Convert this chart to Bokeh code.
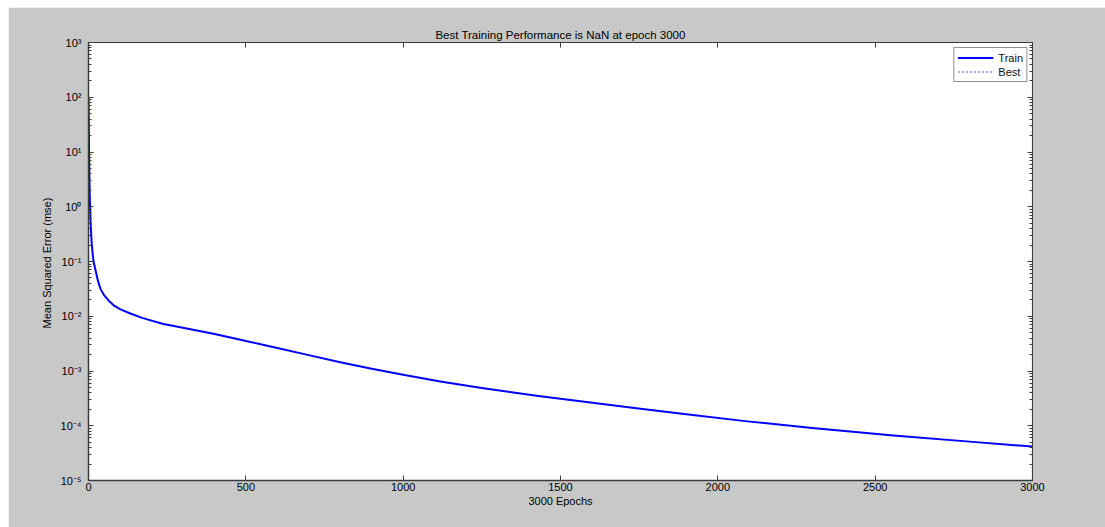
from bokeh.plotting import figure
from bokeh.models import (FixedTicker, LinearAxis, LogAxis, Legend, LegendItem,
                          CustomJSTickFormatter)
from bokeh.embed import file_html
from bokeh.resources import INLINE

# ---- data ----
epochs = [0, 1, 2, 3, 4, 5, 6, 8, 10, 13, 16, 22, 30, 38, 50, 65, 80, 100, 133,
          170, 238, 300, 397, 483, 600, 700, 800, 900, 1000, 1118, 1250, 1436,
          1627, 1754, 1900, 2094, 2300, 2558, 2800, 3000]
train_log_mse = [2.0, 1.5, 0.9, 0.5, 0.2, 0.0, -0.2, -0.45, -0.65, -0.85, -1.0,
                 -1.15, -1.35, -1.50, -1.62, -1.72, -1.80, -1.87, -1.95, -2.03,
                 -2.14, -2.21, -2.32, -2.43, -2.58, -2.71, -2.84, -2.96, -3.07,
                 -3.19, -3.31, -3.46, -3.60, -3.69, -3.79, -3.92, -4.04, -4.18,
                 -4.29, -4.38]
train_mse = [10 ** v for v in train_log_mse]
best_epoch = 3000
y_limits = [1e-5, 1e3]
x_ticks = [0, 500, 1000, 1500, 2000, 2500, 3000]
y_ticks = [1e-5, 1e-4, 1e-3, 1e-2, 1e-1, 1e0, 1e1, 1e2, 1e3]
y_tick_labels = ["10⁻⁵", "10⁻⁴", "10⁻³", "10⁻²", "10⁻¹", "10⁰", "10¹", "10²", "10³"]
title_text = "Best Training Performance is NaN at epoch 3000"
x_label = "3000 Epochs"
y_label = "Mean Squared Error  (mse)"

FONT = "Liberation Sans"
AX = "#3a3a3a"
TXT = "#000000"
y_minor = [k * t for t in y_ticks[:-1] for k in range(2, 10)]

p = figure(width=1097, height=520, x_range=(0, 3000), y_range=tuple(y_limits),
           y_axis_type="log", output_backend="svg", toolbar_location=None,
           min_border_left=80, min_border_right=73, min_border_top=35,
           min_border_bottom=47)
p.margin = (7, 0, 0, 8)
p.border_fill_color = "#c8c8c8"
p.background_fill_color = "white"
p.outline_line_color = AX
p.outline_line_width = 1
p.grid.visible = False

p.title.text = title_text
p.title.align = "center"
p.title.text_font = FONT
p.title.text_font_size = "11.5px"
p.title.text_font_style = "normal"
p.title.text_color = TXT
p.title.standoff = 4

r_train = p.line(epochs, train_mse, line_color="#0000ff", line_width=2,
                 line_join="round")
r_best = p.line([best_epoch, best_epoch], y_limits, line_color="#8a8ae8",
                line_width=1.5, line_dash="2 2")

def style_axis(ax, labels=True):
    ax.axis_line_color = AX
    ax.axis_line_width = 1.5
    ax.major_tick_line_color = AX
    ax.minor_tick_line_color = AX
    ax.major_tick_in = 5
    ax.major_tick_out = 0
    ax.minor_tick_in = 3
    ax.minor_tick_out = 0
    ax.major_label_text_font = FONT
    ax.major_label_text_font_size = "11px"
    ax.major_label_text_color = TXT
    if not labels:
        ax.formatter = CustomJSTickFormatter(code="return ''")

# bottom x axis
xa = p.xaxis[0]
xa.ticker = FixedTicker(ticks=x_ticks)
style_axis(xa)
xa.minor_tick_line_color = None
xa.major_label_standoff = 2
xa.axis_label = x_label
xa.axis_label_text_font = FONT
xa.axis_label_text_font_size = "11px"
xa.axis_label_text_font_style = "normal"
xa.axis_label_text_color = TXT
xa.axis_label_standoff = 1

# left y axis
ya = p.yaxis[0]
ya.ticker = FixedTicker(ticks=y_ticks, minor_ticks=y_minor)
style_axis(ya)
ya.major_label_overrides = {t: s for t, s in zip(y_ticks, y_tick_labels)}
ya.major_label_standoff = 7
ya.axis_label = y_label
ya.axis_label_text_font = FONT
ya.axis_label_text_font_size = "11px"
ya.axis_label_text_font_style = "normal"
ya.axis_label_text_color = TXT
ya.axis_label_standoff = 5

# mirrored axes (box on)
top = LinearAxis(ticker=FixedTicker(ticks=x_ticks))
style_axis(top, labels=False)
top.minor_tick_line_color = None
top.axis_line_width = 1
p.add_layout(top, "above")

right = LogAxis(ticker=FixedTicker(ticks=y_ticks, minor_ticks=y_minor))
style_axis(right, labels=False)
right.axis_line_width = 1
p.add_layout(right, "right")

legend = Legend(items=[LegendItem(label="Train", renderers=[r_train]),
                       LegendItem(label="Best", renderers=[r_best])],
                location="top_right")
legend.label_text_font = FONT
legend.label_text_font_size = "11px"
legend.label_text_color = "#111111"
legend.glyph_width = 36
legend.glyph_height = 13
legend.label_height = 13
legend.label_standoff = 5
legend.spacing = 1
legend.padding = 3
legend.margin = 5
legend.border_line_color = "#222222"
legend.border_line_width = 1
legend.background_fill_color = "white"
p.add_layout(legend)

open("out.html", "w").write(file_html(p, INLINE))
